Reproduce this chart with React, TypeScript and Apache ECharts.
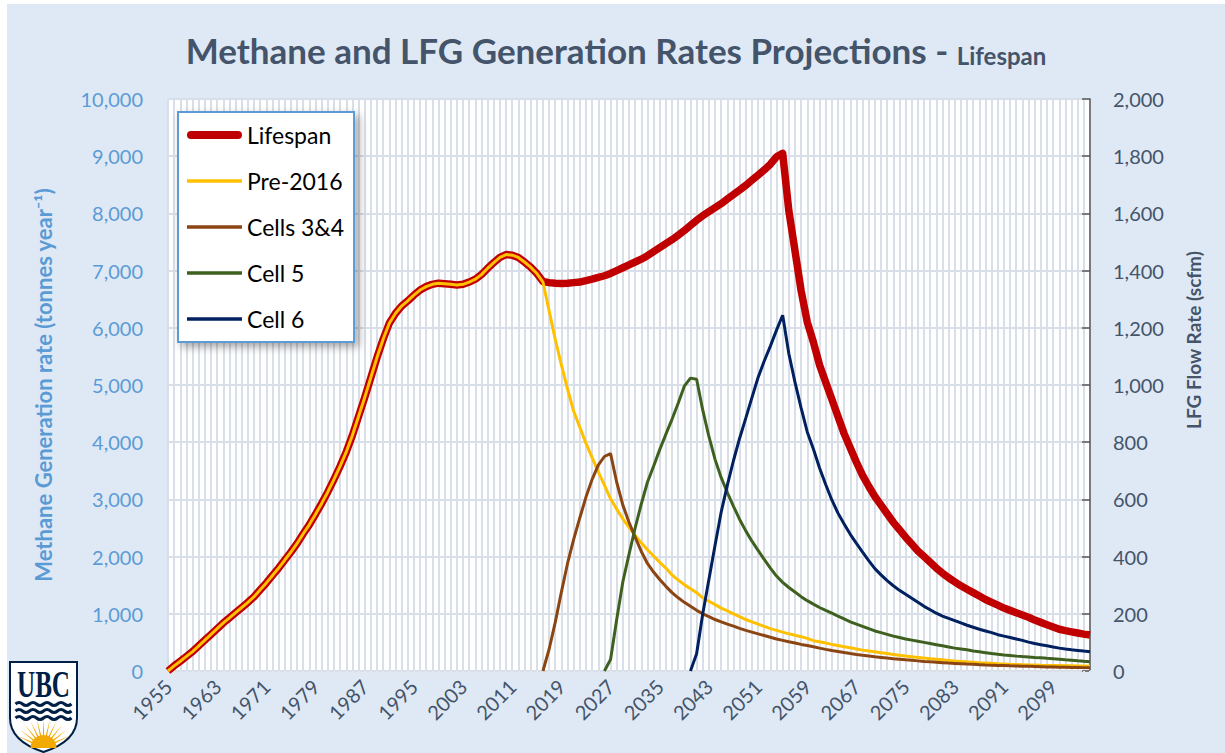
import React, { useEffect, useRef } from 'react';
import * as echarts from 'echarts';

// ---------- Data ----------
const START_YEAR = 1955;
const END_YEAR = 2105;
const years: string[] = Array.from({ length: END_YEAR - START_YEAR + 1 }, (_, i) => String(START_YEAR + i));

// Methane generation rate (tonnes / year), 1955..2105
const lifespan: number[] = [
  0, 90, 170, 255, 340, 440, 540, 640, 740, 840,
  930, 1020, 1110, 1200, 1300, 1420, 1540, 1670, 1800, 1940,
  2080, 2230, 2400, 2560, 2740, 2930, 3130, 3350, 3580, 3830,
  4120, 4450, 4780, 5130, 5480, 5800, 6080, 6250, 6380, 6470,
  6570, 6660, 6720, 6760, 6780, 6770, 6760, 6750, 6760, 6800,
  6850, 6930, 7040, 7140, 7230, 7280, 7270, 7230, 7150, 7060,
  6950,
  6810, 6790, 6780, 6775, 6780, 6790, 6800, 6825, 6850, 6880,
  6910, 6950, 7000, 7050, 7100, 7150, 7200, 7260, 7330, 7400,
  7470, 7540, 7620, 7700, 7790, 7880, 7960, 8030, 8100, 8170,
  8250, 8330, 8410, 8490, 8580, 8670, 8760, 8860, 8990, 9050,
  8050, 7350, 6650, 6100, 5750, 5350, 5050, 4750, 4450, 4150,
  3900, 3650, 3420, 3230, 3050, 2900, 2750, 2600, 2470, 2340,
  2220, 2100, 2000, 1900, 1800, 1710, 1630, 1560, 1490, 1430,
  1370, 1310, 1250, 1200, 1150, 1100, 1060, 1020, 980, 940,
  890, 850, 810, 770, 730, 705, 685, 665, 645, 628,
];

const pre2016: number[] = [
  0, 90, 170, 255, 340, 440, 540, 640, 740, 840,
  930, 1020, 1110, 1200, 1300, 1420, 1540, 1670, 1800, 1940,
  2080, 2230, 2400, 2560, 2740, 2930, 3130, 3350, 3580, 3830,
  4120, 4450, 4780, 5130, 5480, 5800, 6080, 6250, 6380, 6470,
  6570, 6660, 6720, 6760, 6780, 6770, 6760, 6750, 6760, 6800,
  6850, 6930, 7040, 7140, 7230, 7280, 7270, 7230, 7150, 7060,
  6950, 6800, 6300, 5800, 5350, 4930, 4540, 4260, 3980, 3730,
  3480, 3250, 3010, 2830, 2660, 2510, 2370, 2240, 2120, 2010,
  1900, 1800, 1680, 1590, 1510, 1440, 1370, 1280, 1220, 1160,
  1100, 1050, 1000, 950, 900, 860, 820, 780, 740, 710,
  680, 650, 625, 600, 570, 530, 510, 490, 465, 445,
  425, 405, 385, 365, 350, 335, 320, 305, 290, 275,
  262, 250, 238, 226, 215, 205, 195, 185, 176, 168,
  160, 153, 146, 140, 134, 128, 123, 118, 114, 110,
  106, 103, 100, 98, 96, 94, 92, 90, 88, 87,
  85,
];

const CELLS34_START = 2016;
const cells34: number[] = [
  0, 380, 850, 1380, 1880, 2300, 2680, 3040, 3350, 3600,
  3750, 3800, 3300, 2900, 2600, 2340, 2090, 1880, 1730, 1600,
  1480, 1370, 1280, 1200, 1130, 1060, 1000, 950, 900, 860,
  820, 785, 745, 710, 680, 650, 620, 590, 560, 535,
  510, 490, 465, 445, 425, 400, 378, 358, 340, 322,
  305, 290, 276, 263, 250, 238, 226, 215, 205, 195,
  186, 177, 168, 160, 153, 146, 139, 133, 127, 121,
  116, 111, 106, 102, 98, 94, 90, 87, 84, 81,
  78, 75, 72, 70, 67, 65, 63, 61, 59, 57,
];

const CELL5_START = 2026;
const cell5: number[] = [
  0, 200, 900, 1560, 2040, 2500, 2920, 3300, 3580, 3870,
  4140, 4400, 4680, 4980, 5120, 5100, 4560, 4100, 3700, 3380,
  3120, 2880, 2650, 2450, 2270, 2110, 1950, 1800, 1660, 1550,
  1460, 1380, 1300, 1230, 1170, 1110, 1060, 1010, 960, 910,
  860, 820, 780, 740, 700, 670, 640, 610, 585, 560,
  540, 520, 500, 480, 460, 440, 420, 400, 385, 370,
  350, 335, 320, 305, 292, 280, 270, 260, 252, 245,
  237, 230, 222, 215, 205, 195, 187, 178, 170, 163,
];

const CELL6_START = 2040;
const cell6: number[] = [
  0, 300, 1000, 1600, 2200, 2780, 3250, 3680, 4070, 4420,
  4780, 5130, 5420, 5680, 5960, 6220, 5550, 5050, 4600, 4180,
  3880, 3550, 3260, 2990, 2760, 2570, 2390, 2230, 2080, 1930,
  1790, 1680, 1580, 1490, 1410, 1340, 1270, 1200, 1130, 1070,
  1010, 960, 920, 880, 840, 800, 765, 730, 700, 670,
  635, 610, 585, 560, 535, 505, 480, 460, 440, 420,
  400, 385, 372, 360, 348, 338,
];

const seriesNames = ['Lifespan', 'Pre-2016', 'Cells 3&4', 'Cell 5', 'Cell 6'];
const LEFT_MAX = 10000;
const LEFT_STEP = 1000;
const RIGHT_MAX = 2000;
const RIGHT_STEP = 200;

// ---------- helpers ----------
const pad = (start: number, arr: number[]) =>
  [...Array(start - START_YEAR).fill(null), ...arr];

const FONT = 'Lato';
const SLATE = '#44546A';
const BLUE = '#5B9BD5';
const NAVY = '#002145';
const GOLD = '#F2A900';

const COLORS: Record<string, string> = {
  'Lifespan': '#C00000',
  'Pre-2016': '#FFC000',
  'Cells 3&4': '#8B4513',
  'Cell 5': '#3F6120',
  'Cell 6': '#002060',
};

const THICK_ICON = 'path://M4,0 H51 A4,4 0 0 1 51,8 H4 A4,4 0 0 1 4,0 Z';
const THIN_ICON = 'path://M0,0 H55 V3.5 H0 Z';

// UBC logo shapes
let shapesRegistered = false;
function registerShapes() {
  if (shapesRegistered) return;
  shapesRegistered = true;
  echarts.graphic.registerShape(
    'ubcShield',
    echarts.graphic.extendPath('M0,0 L67,0 L67,56 C67,74 52,84 33.5,90 C15,84 0,74 0,56 Z', {})
  );
  echarts.graphic.registerShape(
    'ubcWave',
    echarts.graphic.extendPath('M0,0 Q3.5,-3 7,0 T14,0 T21,0 T28,0 T35,0 T42,0 T49,0 T56,0', {})
  );
  const cx = 33.5, cy = 86;
  let d = '';
  const n = 11;
  for (let i = 0; i < n; i++) {
    const a = ((205 + (i * 130) / (n - 1)) * Math.PI) / 180;
    const w = (4.5 * Math.PI) / 180;
    const r0 = 10, r1 = 30;
    const p1 = [cx + r0 * Math.cos(a - w), cy + r0 * Math.sin(a - w)];
    const p2 = [cx + r1 * Math.cos(a), cy + r1 * Math.sin(a)];
    const p3 = [cx + r0 * Math.cos(a + w), cy + r0 * Math.sin(a + w)];
    d += `M${p1[0].toFixed(2)},${p1[1].toFixed(2)} L${p2[0].toFixed(2)},${p2[1].toFixed(2)} L${p3[0].toFixed(2)},${p3[1].toFixed(2)} Z `;
  }
  d += `M${cx - 13},${cy} A13,13 0 0 1 ${cx + 13},${cy} Z`;
  echarts.graphic.registerShape('ubcSun', echarts.graphic.extendPath(d, {}));
}

export default function App() {
  const ref = useRef<HTMLDivElement>(null);

  useEffect(() => {
    if (!ref.current) return;
    registerShapes();
    const chart = echarts.init(ref.current, undefined, { renderer: 'svg' });

    const lx = 3, ly = 658;
    const option: any = {
      animation: false,
      backgroundColor: '#DFE9F5',
      title: {
        left: 'center',
        top: 18,
        text: '{a|Methane and LFG Generation Rates Projections - }{b|Lifespan}',
        textStyle: {
          fontFamily: FONT,
          rich: {
            a: { fontFamily: FONT, fontSize: 35, fontWeight: 'bold', color: SLATE, verticalAlign: 'bottom', lineHeight: 40 },
            b: { fontFamily: FONT, fontSize: 24, fontWeight: 'bold', color: SLATE, verticalAlign: 'bottom', lineHeight: 40 },
          },
        },
      },
      legend: {
        orient: 'vertical',
        left: 171,
        top: 108,
        itemWidth: 55,
        itemHeight: 14,
        itemGap: 22,
        itemTextGap: 6,
        padding: [11, 10, 11, 9],
        backgroundColor: '#FFFFFF',
        borderColor: BLUE,
        borderWidth: 2,
        shadowBlur: 8,
        shadowColor: 'rgba(0,0,0,0.35)',
        shadowOffsetX: 4,
        shadowOffsetY: 4,
        symbolKeepAspect: true,
        textStyle: { color: '#000', fontSize: 23, fontFamily: FONT, lineHeight: 24 },
        data: seriesNames.map((n, i) => ({
          name: n,
          icon: i === 0 ? THICK_ICON : THIN_ICON,
          itemStyle: { color: COLORS[n] },
        })),
      },
      grid: {
        left: 161,
        right: 135,
        top: 95,
        bottom: 82,
        show: true,
        backgroundColor: '#FFFFFF',
        borderWidth: 0,
      },
      xAxis: {
        type: 'category',
        data: years,
        boundaryGap: false,
        axisLine: { lineStyle: { color: '#D9DFE8', width: 2 } },
        axisTick: { show: true, interval: 0, length: 7, lineStyle: { color: '#E3E8EF', width: 2 } },
        axisLabel: { interval: 7, rotate: 45, color: SLATE, fontSize: 20, margin: 12, fontFamily: FONT },
        splitLine: { show: true, interval: 0, lineStyle: { color: '#D9DFE8', width: 2 } },
      },
      yAxis: [
        {
          type: 'value',
          min: 0,
          max: LEFT_MAX,
          interval: LEFT_STEP,
          position: 'left',
          name: 'Methane Generation rate (tonnes year⁻¹)',
          nameLocation: 'middle',
          nameGap: 114,
          nameRotate: 90,
          nameTextStyle: { color: BLUE, fontSize: 22, fontWeight: 'bold', fontFamily: FONT },
          axisLine: { show: false },
          axisTick: { show: false },
          axisLabel: {
            color: BLUE,
            fontSize: 20,
            margin: 25,
            fontFamily: FONT,
            formatter: (v: number) => v.toLocaleString('en-US'),
          },
          splitLine: { show: true, lineStyle: { color: '#D9DFE8', width: 2 } },
        },
        {
          type: 'value',
          min: 0,
          max: RIGHT_MAX,
          interval: RIGHT_STEP,
          position: 'right',
          axisLine: { show: true, lineStyle: { color: '#595959', width: 1.5 } },
          axisTick: { show: true, inside: true, length: 8, lineStyle: { color: '#595959', width: 1.5 } },
          axisLabel: {
            color: SLATE,
            fontSize: 20,
            margin: 23,
            fontFamily: FONT,
            formatter: (v: number) => v.toLocaleString('en-US'),
          },
          splitLine: { show: false },
        },
      ],
      series: [
        {
          name: 'Lifespan', type: 'line', data: lifespan, symbol: 'none', showSymbol: false,
          lineStyle: { color: COLORS['Lifespan'], width: 7.5, join: 'round' }, itemStyle: { color: COLORS['Lifespan'] }, z: 2,
        },
        {
          name: 'Pre-2016', type: 'line', data: pre2016, symbol: 'none', showSymbol: false,
          lineStyle: { color: COLORS['Pre-2016'], width: 3 }, itemStyle: { color: COLORS['Pre-2016'] }, z: 3,
        },
        {
          name: 'Cells 3&4', type: 'line', data: pad(CELLS34_START, cells34), symbol: 'none', showSymbol: false,
          lineStyle: { color: COLORS['Cells 3&4'], width: 3 }, itemStyle: { color: COLORS['Cells 3&4'] }, z: 3,
        },
        {
          name: 'Cell 5', type: 'line', data: pad(CELL5_START, cell5), symbol: 'none', showSymbol: false,
          lineStyle: { color: COLORS['Cell 5'], width: 3 }, itemStyle: { color: COLORS['Cell 5'] }, z: 3,
        },
        {
          name: 'Cell 6', type: 'line', data: pad(CELL6_START, cell6), symbol: 'none', showSymbol: false,
          lineStyle: { color: COLORS['Cell 6'], width: 3 }, itemStyle: { color: COLORS['Cell 6'] }, z: 3,
        },
      ],
      graphic: [
        {
          type: 'text',
          x: 1186,
          y: 336,
          rotation: Math.PI / 2,
          style: {
            text: 'LFG Flow Rate (scfm)',
            fill: SLATE,
            font: `bold 19px ${FONT}`,
            align: 'center',
            verticalAlign: 'middle',
          },
        },
        {
          type: 'group',
          x: lx,
          y: ly,
          children: [
            { type: 'ubcShield', x: 0, y: 0, style: { fill: '#FFFFFF', stroke: NAVY, lineWidth: 2 } },
            { type: 'ubcSun', x: 0, y: 0, style: { fill: GOLD, stroke: null } },
            {
              type: 'text', x: 33.5, y: 3, scaleX: 0.66,
              style: { text: 'UBC', fill: NAVY, font: 'bold 38px "Liberation Serif"', align: 'center', verticalAlign: 'top' },
            },
            { type: 'ubcWave', x: 5.5, y: 42, style: { fill: null, stroke: NAVY, lineWidth: 3 } },
            { type: 'ubcWave', x: 5.5, y: 49, style: { fill: null, stroke: NAVY, lineWidth: 3 } },
            { type: 'ubcWave', x: 5.5, y: 56, style: { fill: null, stroke: NAVY, lineWidth: 3 } },
          ],
        },
      ],
    };

    chart.setOption(option);
    return () => chart.dispose();
  }, []);

  return (
    <div
      ref={ref}
      style={{ position: 'absolute', left: 7, top: 4, width: 1218, height: 749 }}
    />
  );
}
